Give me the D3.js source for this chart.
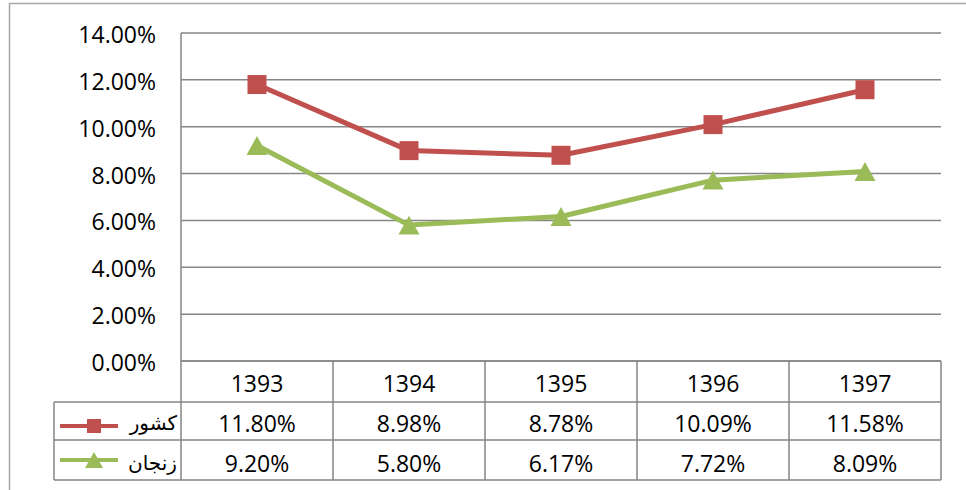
<!DOCTYPE html>
<html>
<head>
<meta charset="utf-8">
<script src="https://cdn.jsdelivr.net/npm/d3@7"></script>
<style>
  body { margin: 0; background: #fff; }
  text { font-family: "Open Sans", sans-serif; fill: #000; }
</style>
</head>
<body>
<svg id="chart" width="966" height="490"></svg>
<script>
var years = ["1393", "1394", "1395", "1396", "1397"];
var countryName = "کشور";
var zanjanName = "زنجان";
var country = [11.80, 8.98, 8.78, 10.09, 11.58];
var zanjan = [9.20, 5.80, 6.17, 7.72, 8.09];
var yTicks = [0, 2, 4, 6, 8, 10, 12, 14];

var series = [
  {name: countryName, values: country, color: "#C0504D", marker: "square"},
  {name: zanjanName, values: zanjan, color: "#9BBB59", marker: "triangle"}
];

var gridColor = "#868686";
// note: "top" is a read-only global in the browser, so use plot* names
var plotLeft = 181, plotRight = 941, plotTop = 33, plotBottom = 361;
var rowH = [41, 38, 40]; // header row, then one row per series
var legendLeft = 54;

var svg = d3.select("#chart");

// outer frame (cut at right and bottom like the picture)
svg.append("path")
  .attr("d", "M9.5,490 V3.5 H966")
  .attr("fill", "none")
  .attr("stroke", "#a6a6a6")
  .attr("stroke-width", 1.5);

var xScale = d3.scaleBand()
  .domain(years)
  .range([plotLeft, plotRight]);

var yScale = d3.scaleLinear()
  .domain([0, 14])
  .range([plotBottom, plotTop]);

// gridlines
svg.selectAll(".grid")
  .data(yTicks)
  .enter()
  .append("line")
  .attr("x1", plotLeft)
  .attr("x2", plotRight)
  .attr("y1", function(d){ return yScale(d); })
  .attr("y2", function(d){ return yScale(d); })
  .attr("stroke", gridColor)
  .attr("stroke-width", 1.5);

// y labels
svg.selectAll(".ylab")
  .data(yTicks)
  .enter()
  .append("text")
  .attr("x", 156)
  .attr("y", function(d){ return yScale(d) + 10; })
  .attr("text-anchor", "end")
  .style("font-size", "23px")
  .text(function(d){ return d.toFixed(2) + "%"; });

// left axis line
svg.append("line")
  .attr("x1", plotLeft).attr("x2", plotLeft)
  .attr("y1", plotTop).attr("y2", plotBottom)
  .attr("stroke", gridColor)
  .attr("stroke-width", 1.5);

// data table
var rowTop = [plotBottom, plotBottom + rowH[0], plotBottom + rowH[0] + rowH[1]];
var tableBottom = rowTop[2] + rowH[2];

var tbl = svg.append("g");
// horizontal lines
tbl.append("line").attr("x1", plotLeft).attr("x2", plotRight)
  .attr("y1", rowTop[0]).attr("y2", rowTop[0]);
[rowTop[1], rowTop[2], tableBottom].forEach(function(y){
  tbl.append("line").attr("x1", legendLeft).attr("x2", plotRight)
    .attr("y1", y).attr("y2", y);
});
// vertical lines
tbl.append("line").attr("x1", legendLeft).attr("x2", legendLeft)
  .attr("y1", rowTop[1]).attr("y2", tableBottom);
years.forEach(function(yr){
  tbl.append("line").attr("x1", xScale(yr)).attr("x2", xScale(yr))
    .attr("y1", rowTop[0]).attr("y2", tableBottom);
});
tbl.append("line").attr("x1", plotRight).attr("x2", plotRight)
  .attr("y1", rowTop[0]).attr("y2", tableBottom);
tbl.selectAll("line")
  .attr("stroke", gridColor)
  .attr("stroke-width", 1.5);

// header row
svg.selectAll(".yr")
  .data(years)
  .enter()
  .append("text")
  .attr("x", function(d){ return xScale(d) + xScale.bandwidth() / 2; })
  .attr("y", rowTop[0] + 31)
  .attr("text-anchor", "middle")
  .style("font-size", "23px")
  .text(function(d){ return d; });

var trianglePath = function(s){
  var h = s * 0.9;
  return "M0," + (-h / 2) + " L" + (s / 2) + "," + (h / 2) + " L" + (-s / 2) + "," + (h / 2) + " Z";
};

var drawMarker = function(g, kind, x, y, s, color){
  if (kind == "square") {
    g.append("rect")
      .attr("x", x - s / 2).attr("y", y - s / 2)
      .attr("width", s).attr("height", s)
      .attr("fill", color);
  } else {
    g.append("path")
      .attr("d", trianglePath(s))
      .attr("transform", "translate(" + x + "," + y + ")")
      .attr("fill", color);
  }
};

var line = d3.line()
  .x(function(d, i){ return xScale(years[i]) + xScale.bandwidth() / 2; })
  .y(function(d){ return yScale(d); });

series.forEach(function(s, si){
  // the line and its markers
  var g = svg.append("g");
  g.append("path")
    .attr("d", line(s.values))
    .attr("fill", "none")
    .attr("stroke", s.color)
    .attr("stroke-width", 5)
    .attr("stroke-linejoin", "round");
  s.values.forEach(function(v, i){
    drawMarker(g, s.marker, xScale(years[i]) + xScale.bandwidth() / 2, yScale(v), s.marker == "square" ? 19 : 21, s.color);
  });

  // table row values
  var ty = rowTop[si + 1];
  svg.selectAll(".val" + si)
    .data(s.values)
    .enter()
    .append("text")
    .attr("x", function(d, i){ return xScale(years[i]) + xScale.bandwidth() / 2; })
    .attr("y", ty + rowH[si + 1] - 8)
    .attr("text-anchor", "middle")
    .style("font-size", "23px")
    .text(function(d){ return d.toFixed(2) + "%"; });

  // legend key in the table
  var ky = ty + rowH[si + 1] / 2 + (si == 0 ? 5 : 0);
  svg.append("line")
    .attr("x1", 60).attr("x2", 118)
    .attr("y1", ky).attr("y2", ky)
    .attr("stroke", s.color)
    .attr("stroke-width", 4);
  drawMarker(svg, s.marker, 94, ky, s.marker == "square" ? 14 : 18, s.color);
  svg.append("text")
    .attr("x", 177)
    .attr("y", ty + rowH[si + 1] - 10)
    .attr("text-anchor", "end")
    .style("font-family", "'DejaVu Sans', sans-serif")
    .style("font-size", "20px")
    .text(s.name);
});
</script>
</body>
</html>
